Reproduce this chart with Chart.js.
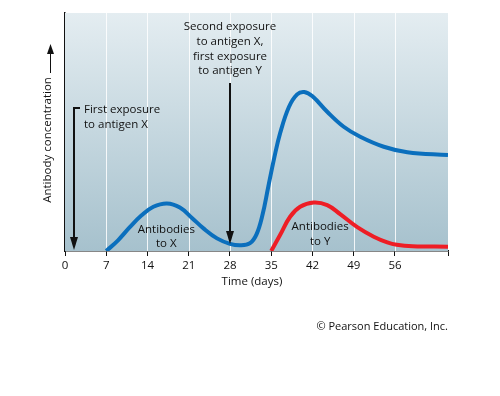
<!DOCTYPE html>
<html>
<head>
<meta charset="utf-8">
<script src="https://cdn.jsdelivr.net/npm/chart.js@4.4.0/dist/chart.umd.min.js"></script>
<style>
  html, body { margin: 0; padding: 0; background: #fff; }
  #wrap { width: 500px; height: 396px; }
</style>
</head>
<body>
<div id="wrap"><canvas id="mycanvas" width="500" height="396"></canvas></div>
<script>
// days and antibody levels
var xDays = [7, 9, 11, 13, 15, 17.3, 19.5, 21.5, 23.5, 25.8, 28, 29.8, 31.4, 32.5, 33.5, 34.5, 35.5, 36.5, 38, 39.4, 40.6, 42, 44.5, 47.3, 50.1, 54.1, 58.1, 65];
var xLevels = [0, 4.5, 10, 15, 18.6, 20, 18.3, 14, 9.5, 5.3, 3, 2.4, 3.3, 7, 15, 27, 39, 49.4, 60.5, 65.8, 66.8, 65, 58.5, 52.2, 48, 43.8, 41.5, 40.3];
var yDays = [35, 36.5, 38.2, 39.9, 42.2, 44.5, 46.7, 49.6, 52.4, 54.7, 56.3, 59, 65];
var yLevels = [0, 6.7, 14.4, 18.6, 20.4, 19.3, 15.5, 10, 6, 3.6, 2.6, 2, 1.8];
var tickDays = [0, 7, 14, 21, 28, 35, 42, 49, 56, 65];
var gridDays = [7, 14, 21, 28, 35, 42, 49, 56];

var font = "'Open Sans', sans-serif";

function pairs(xs, ys) {
	var out = [];
	for (var i in xs) {
		out.push({x: xs[i], y: ys[i]});
	}
	return out;
}

var backdrop = {
	id: 'backdrop',
	beforeDatasetsDraw: function(chart) {
		var a = chart.chartArea;
		var ctx = chart.ctx;
		var g = ctx.createLinearGradient(0, a.top, 0, a.bottom);
		g.addColorStop(0, '#e4edf1');
		g.addColorStop(1, '#a6c1cd');
		ctx.save();
		ctx.fillStyle = g;
		ctx.fillRect(a.left, a.top, a.right - a.left, a.bottom - a.top);
		// white grid lines on top of the fill
		var xs = chart.scales.x;
		ctx.strokeStyle = 'rgba(255,255,255,0.85)';
		ctx.lineWidth = 1;
		gridDays.forEach(function(d) {
			var px = Math.round(xs.getPixelForValue(d)) + 0.5;
			ctx.beginPath();
			ctx.moveTo(px, a.top);
			ctx.lineTo(px, a.bottom);
			ctx.stroke();
		});
		ctx.restore();
	}
};

function arrowDown(ctx, x, top, tip) {
	ctx.beginPath();
	ctx.moveTo(x, top);
	ctx.lineTo(x, tip - 10);
	ctx.stroke();
	ctx.beginPath();
	ctx.moveTo(x, tip);
	ctx.lineTo(x - 4, tip - 13);
	ctx.lineTo(x + 4, tip - 13);
	ctx.closePath();
	ctx.fill();
}

var notes = {
	id: 'notes',
	afterDraw: function(chart) {
		var ctx = chart.ctx;
		var xs = chart.scales.x;
		var a = chart.chartArea;
		ctx.save();
		ctx.fillStyle = '#111';
		ctx.strokeStyle = '#111';
		ctx.lineWidth = 2;

		// first exposure arrow
		var x1 = Math.round(xs.getPixelForValue(1.6));
		arrowDown(ctx, x1, 107, a.bottom - 1);
		ctx.beginPath();
		ctx.moveTo(x1 - 1, 108);
		ctx.lineTo(x1 + 6, 108);
		ctx.stroke();

		// second exposure arrow
		var x2 = Math.round(xs.getPixelForValue(28));
		arrowDown(ctx, x2, 83, 244);

		ctx.font = '11.5px ' + font;
		ctx.textBaseline = 'middle';
		ctx.textAlign = 'left';
		ctx.fillText('First exposure', x1 + 10, 110);
		ctx.fillText('to antigen X', x1 + 10, 125);

		ctx.textAlign = 'center';
		ctx.fillText('Second exposure', x2, 27);
		ctx.fillText('to antigen X,', x2, 42);
		ctx.fillText('first exposure', x2, 57);
		ctx.fillText('to antigen Y', x2, 71);

		ctx.fillText('Antibodies', xs.getPixelForValue(17.2), 230);
		ctx.fillText('to X', xs.getPixelForValue(17.2), 244);
		ctx.fillText('Antibodies', xs.getPixelForValue(43.3), 227);
		ctx.fillText('to Y', xs.getPixelForValue(43.3), 242);

		// y axis label with upward arrow
		ctx.save();
		ctx.translate(48, 140);
		ctx.rotate(-Math.PI / 2);
		ctx.fillText('Antibody concentration', 0, 0);
		ctx.restore();
		ctx.lineWidth = 1;
		ctx.beginPath();
		ctx.moveTo(50.5, 73);
		ctx.lineTo(50.5, 52);
		ctx.stroke();
		ctx.beginPath();
		ctx.moveTo(50.5, 44);
		ctx.lineTo(47, 54);
		ctx.lineTo(54, 54);
		ctx.closePath();
		ctx.fill();

		ctx.fillText('Time (days)', 252, 282);

		ctx.textAlign = 'right';
		ctx.font = '11px ' + font;
		ctx.fillText('\u00a9 Pearson Education, Inc.', 448, 327);
		ctx.restore();
	}
};

var chartdata = {
	datasets: [
		{
			label: 'Antibodies to X',
			data: pairs(xDays, xLevels),
			borderColor: '#0b6fbd',
			borderWidth: 4,
			pointRadius: 0,
			tension: 0.4,
			fill: false
		},
		{
			label: 'Antibodies to Y',
			data: pairs(yDays, yLevels),
			borderColor: '#ee1d25',
			borderWidth: 4,
			pointRadius: 0,
			tension: 0.4,
			fill: false
		}
	]
};

var ctx = document.getElementById('mycanvas');

var lineGraph = new Chart(ctx, {
	type: 'line',
	data: chartdata,
	plugins: [backdrop, notes],
	options: {
		responsive: false,
		animation: false,
		layout: { padding: { top: 13, right: 52, left: 0, bottom: 0 } },
		plugins: {
			legend: { display: false },
			tooltip: { enabled: false }
		},
		scales: {
			x: {
				type: 'linear',
				min: 0,
				max: 65,
				afterBuildTicks: function(scale) {
					scale.ticks = tickDays.map(function(d) { return {value: d}; });
				},
				afterFit: function(scale) { scale.height = 145; },
				ticks: {
					color: '#111',
					font: { family: font, size: 11.5 },
					padding: 3,
					maxRotation: 0,
					autoSkip: false,
					callback: function(v) { return v === 65 ? '' : v; }
				},
				grid: {
					drawOnChartArea: false,
					tickColor: '#111',
					tickLength: 5
				},
				border: { color: '#111', width: 1.5 }
			},
			y: {
				min: 0,
				max: 100,
				afterFit: function(scale) { scale.width = 65; },
				ticks: { display: false },
				grid: { display: false },
				border: { color: '#111', width: 1.5 }
			}
		}
	}
});
</script>
</body>
</html>
